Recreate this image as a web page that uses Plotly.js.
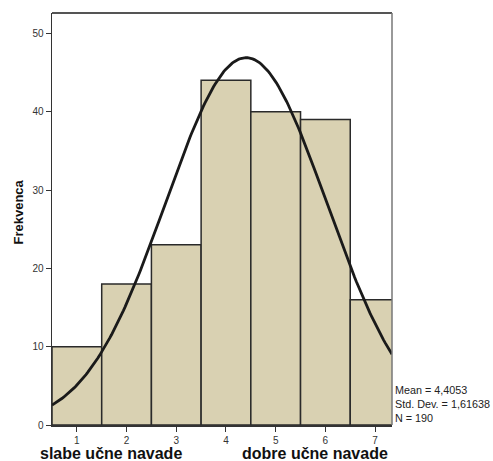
<!DOCTYPE html>
<html><head><meta charset="utf-8">
<script src="https://cdn.plot.ly/plotly-3.0.1.min.js"></script>
<style>html,body{margin:0;padding:0;background:#fff}</style>
</head><body><div id="chart" style="width:493px;height:461px"></div>
<script>
const categories = [1, 2, 3, 4, 5, 6, 7];
const frequencies = [10, 18, 23, 44, 40, 39, 16];
const mean = 4.4053;
const stdDev = 1.61638;
const nTotal = 190;
const tickLabels = ['1', '2', '3', '4', '5', '6', '7'];
const statLabels = ['Mean = 4,4053', 'Std. Dev. = 1,61638', 'N = 190'];

// fitted normal curve defined by the chart's own stated mean / sd / N
const curveX = [], curveY = [];
for (let i = 0; i <= 200; i++) {
  const x = 0.5 + (7.34 - 0.5) * i / 200;
  const z = (x - mean) / stdDev;
  curveX.push(x);
  curveY.push(nTotal * Math.exp(-0.5 * z * z) / (stdDev * Math.sqrt(2 * Math.PI)));
}

const data = [
  {type: 'bar', x: categories, y: frequencies, width: 1,
   marker: {color: '#d9d1b2', line: {color: '#2a2a2a', width: 1.5}},
   hoverinfo: 'skip'},
  {type: 'scatter', mode: 'lines', x: curveX, y: curveY,
   line: {color: '#1a1a1a', width: 2.8}, hoverinfo: 'skip'}
];

const font = {family: 'Liberation Sans, Arial, sans-serif'};
const layout = {
  width: 493, height: 461,
  margin: {l: 52, r: 101, t: 13, b: 36},
  paper_bgcolor: '#fff', plot_bgcolor: '#fff',
  showlegend: false,
  font: font,
  xaxis: {range: [0.5, 7.34], tickvals: categories, ticktext: tickLabels,
    ticks: 'outside', ticklen: 5, tickcolor: '#333', tickwidth: 1,
    tickfont: {size: 10, color: '#333', family: font.family},
    showgrid: false, zeroline: false, showline: true, linecolor: '#333', linewidth: 1.5,
    mirror: false},
  yaxis: {range: [0, 52.6], tickvals: [0, 10, 20, 30, 40, 50],
    ticks: 'outside', ticklen: 5, tickcolor: '#333', tickwidth: 1,
    tickfont: {size: 10, color: '#333', family: font.family},
    showgrid: false, zeroline: false, showline: true, linecolor: '#333', linewidth: 1.5},
  shapes: [
    {type: 'line', xref: 'paper', yref: 'paper', x0: 0, x1: 1, y0: 1, y1: 1, line: {color: '#555', width: 2}},
    {type: 'line', xref: 'paper', yref: 'paper', x0: 1, x1: 1, y0: 0, y1: 1, line: {color: '#777', width: 1.5}}
  ],
  annotations: [
    {xref: 'paper', yref: 'paper', x: -0.0985, y: 0.517, xanchor: 'center', yanchor: 'middle',
     text: '<b>Frekvenca</b>', textangle: -90, showarrow: false, borderpad: 0,
     font: {size: 13, color: '#111', family: font.family}},
    {xref: 'paper', yref: 'paper', x: 1.003, y: 0.051, xanchor: 'left', yanchor: 'middle',
     text: statLabels.join('<br>'), align: 'left', showarrow: false,
     font: {size: 10.8, color: '#222', family: font.family}},
    {xref: 'x', yref: 'paper', x: 1.677, y: -0.068, xanchor: 'center', yanchor: 'middle',
     text: '<b>slabe učne navade</b>', showarrow: false, borderpad: 0,
     font: {size: 16, color: '#111', family: font.family}},
    {xref: 'x', yref: 'paper', x: 5.79, y: -0.068, xanchor: 'center', yanchor: 'middle',
     text: '<b>dobre učne navade</b>', showarrow: false, borderpad: 0,
     font: {size: 16, color: '#111', family: font.family}}
  ]
};
Plotly.newPlot('chart', data, layout, {displayModeBar: false, staticPlot: true});
</script></body></html>
